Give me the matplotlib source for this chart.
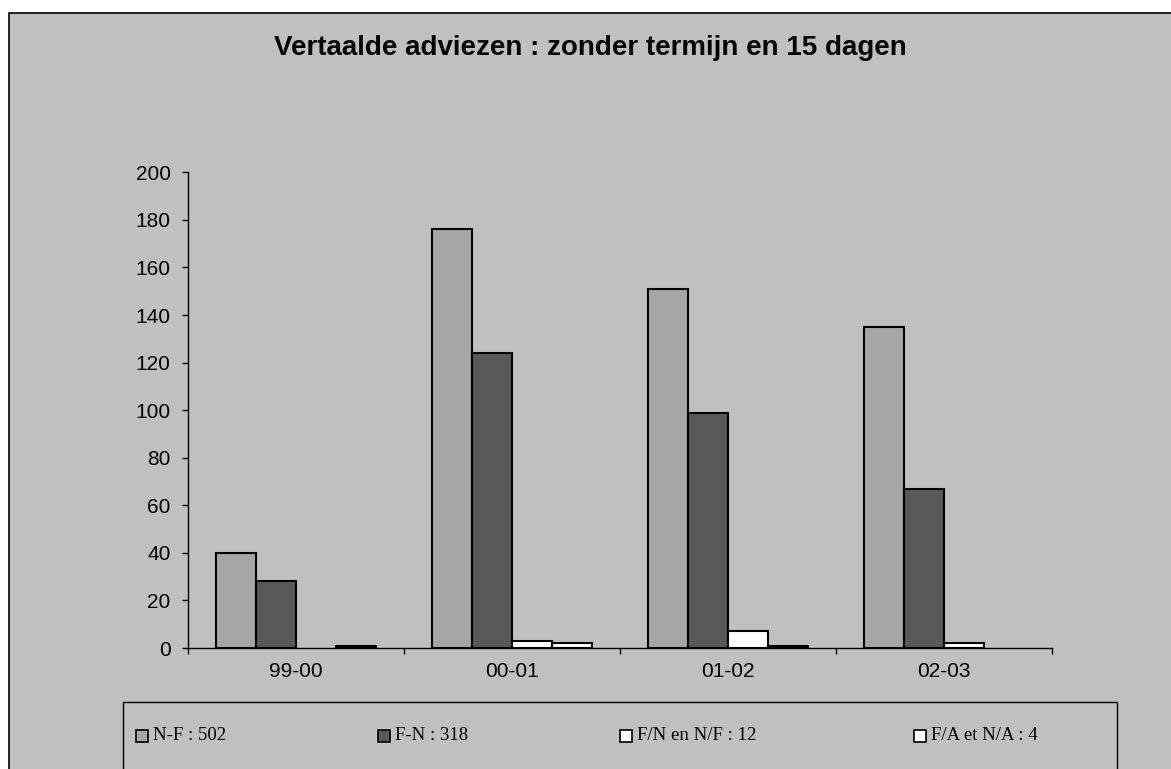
"""
Vertaalde adviezen : zonder termijn en 15 dagen -- gegroepeerde staafgrafiek
"""
import matplotlib.pyplot as plt
from matplotlib.patches import Rectangle
import numpy as np

# gegevens
jaren = ['99-00', '00-01', '01-02', '02-03']
reeksen = ['N-F : 502', 'F-N : 318', 'F/N en N/F : 12', 'F/A et N/A : 4']
n_f = [40, 176, 151, 135]
f_n = [28, 124, 99, 67]
fn_nf = [0, 3, 7, 2]
fa_na = [1, 2, 1, 0]
y_ticks = [0, 20, 40, 60, 80, 100, 120, 140, 160, 180, 200]

waarden = [n_f, f_n, fn_nf, fa_na]
kleuren = ['#a6a6a6', '#595959', '#ffffff', '#ffffff']

W, H = 1171, 769
fig = plt.figure(figsize=(W / 100, H / 100), dpi=100)
fig.patch.set_facecolor('white')

# grijze kaderachtergrond
fig.patches.append(Rectangle((9 / W, -0.1), 1.2, 1 - 13 / H + 0.1, transform=fig.transFigure,
                             facecolor='#c0c0c0', edgecolor='black', linewidth=1.2, zorder=-5))

ax = fig.add_axes([188 / W, 1 - 648 / H, (1052 - 188) / W, (648 - 172.3) / H])
ax.set_facecolor('none')
ax.set_zorder(2)

breedte = 40 / 216
x = np.arange(len(jaren)) + 0.5
for i, (vals, kleur) in enumerate(zip(waarden, kleuren)):
    lw = [1.5 if v > 0 else 0 for v in vals]
    ax.bar(x + (i - 1.5) * breedte, vals, breedte, color=kleur, edgecolor='black',
           linewidth=lw, zorder=3)

ax.set_xlim(0, len(jaren))
ax.set_ylim(0, 200)
ax.set_yticks(y_ticks)
ax.set_yticklabels([str(t) for t in y_ticks], fontsize=15, family='Liberation Sans')
ax.set_xticks(np.arange(len(jaren) + 1))
ax.set_xticklabels([])
ax.set_xticks(x, minor=True)
ax.set_xticklabels(jaren, minor=True, fontsize=15, family='Liberation Sans')
ax.tick_params(axis='x', which='major', direction='out', length=4.5, width=1)
ax.tick_params(axis='x', which='minor', length=0, pad=10)
ax.tick_params(axis='y', direction='out', length=4.5, width=1, pad=8)

for s in ['top', 'right']:
    ax.spines[s].set_visible(False)
for s in ['left', 'bottom']:
    ax.spines[s].set_linewidth(1)
    ax.spines[s].set_color('black')

fig.text(590 / W, 1 - 48 / H, 'Vertaalde adviezen : zonder termijn en 15 dagen',
         ha='center', va='center', fontsize=20, fontweight='bold', family='Liberation Sans')

# legende
fig.patches.append(Rectangle((123 / W, -0.1), (1117 - 123) / W, 1 - 702 / H + 0.1,
                             transform=fig.transFigure, facecolor='none', edgecolor='black',
                             linewidth=1, zorder=1))
leg_x = [136, 378, 620, 914]
for lx, label, kleur in zip(leg_x, reeksen, kleuren):
    fig.patches.append(Rectangle((lx / W, 1 - 742 / H), 12 / W, 12 / H, transform=fig.transFigure,
                                 facecolor=kleur, edgecolor='black', linewidth=1.2, zorder=2))
    fig.text((lx + 17) / W, 1 - 736 / H, label, ha='left', va='center', fontsize=13.5,
             family='Liberation Serif')

plt.savefig('out.png', dpi=100)
